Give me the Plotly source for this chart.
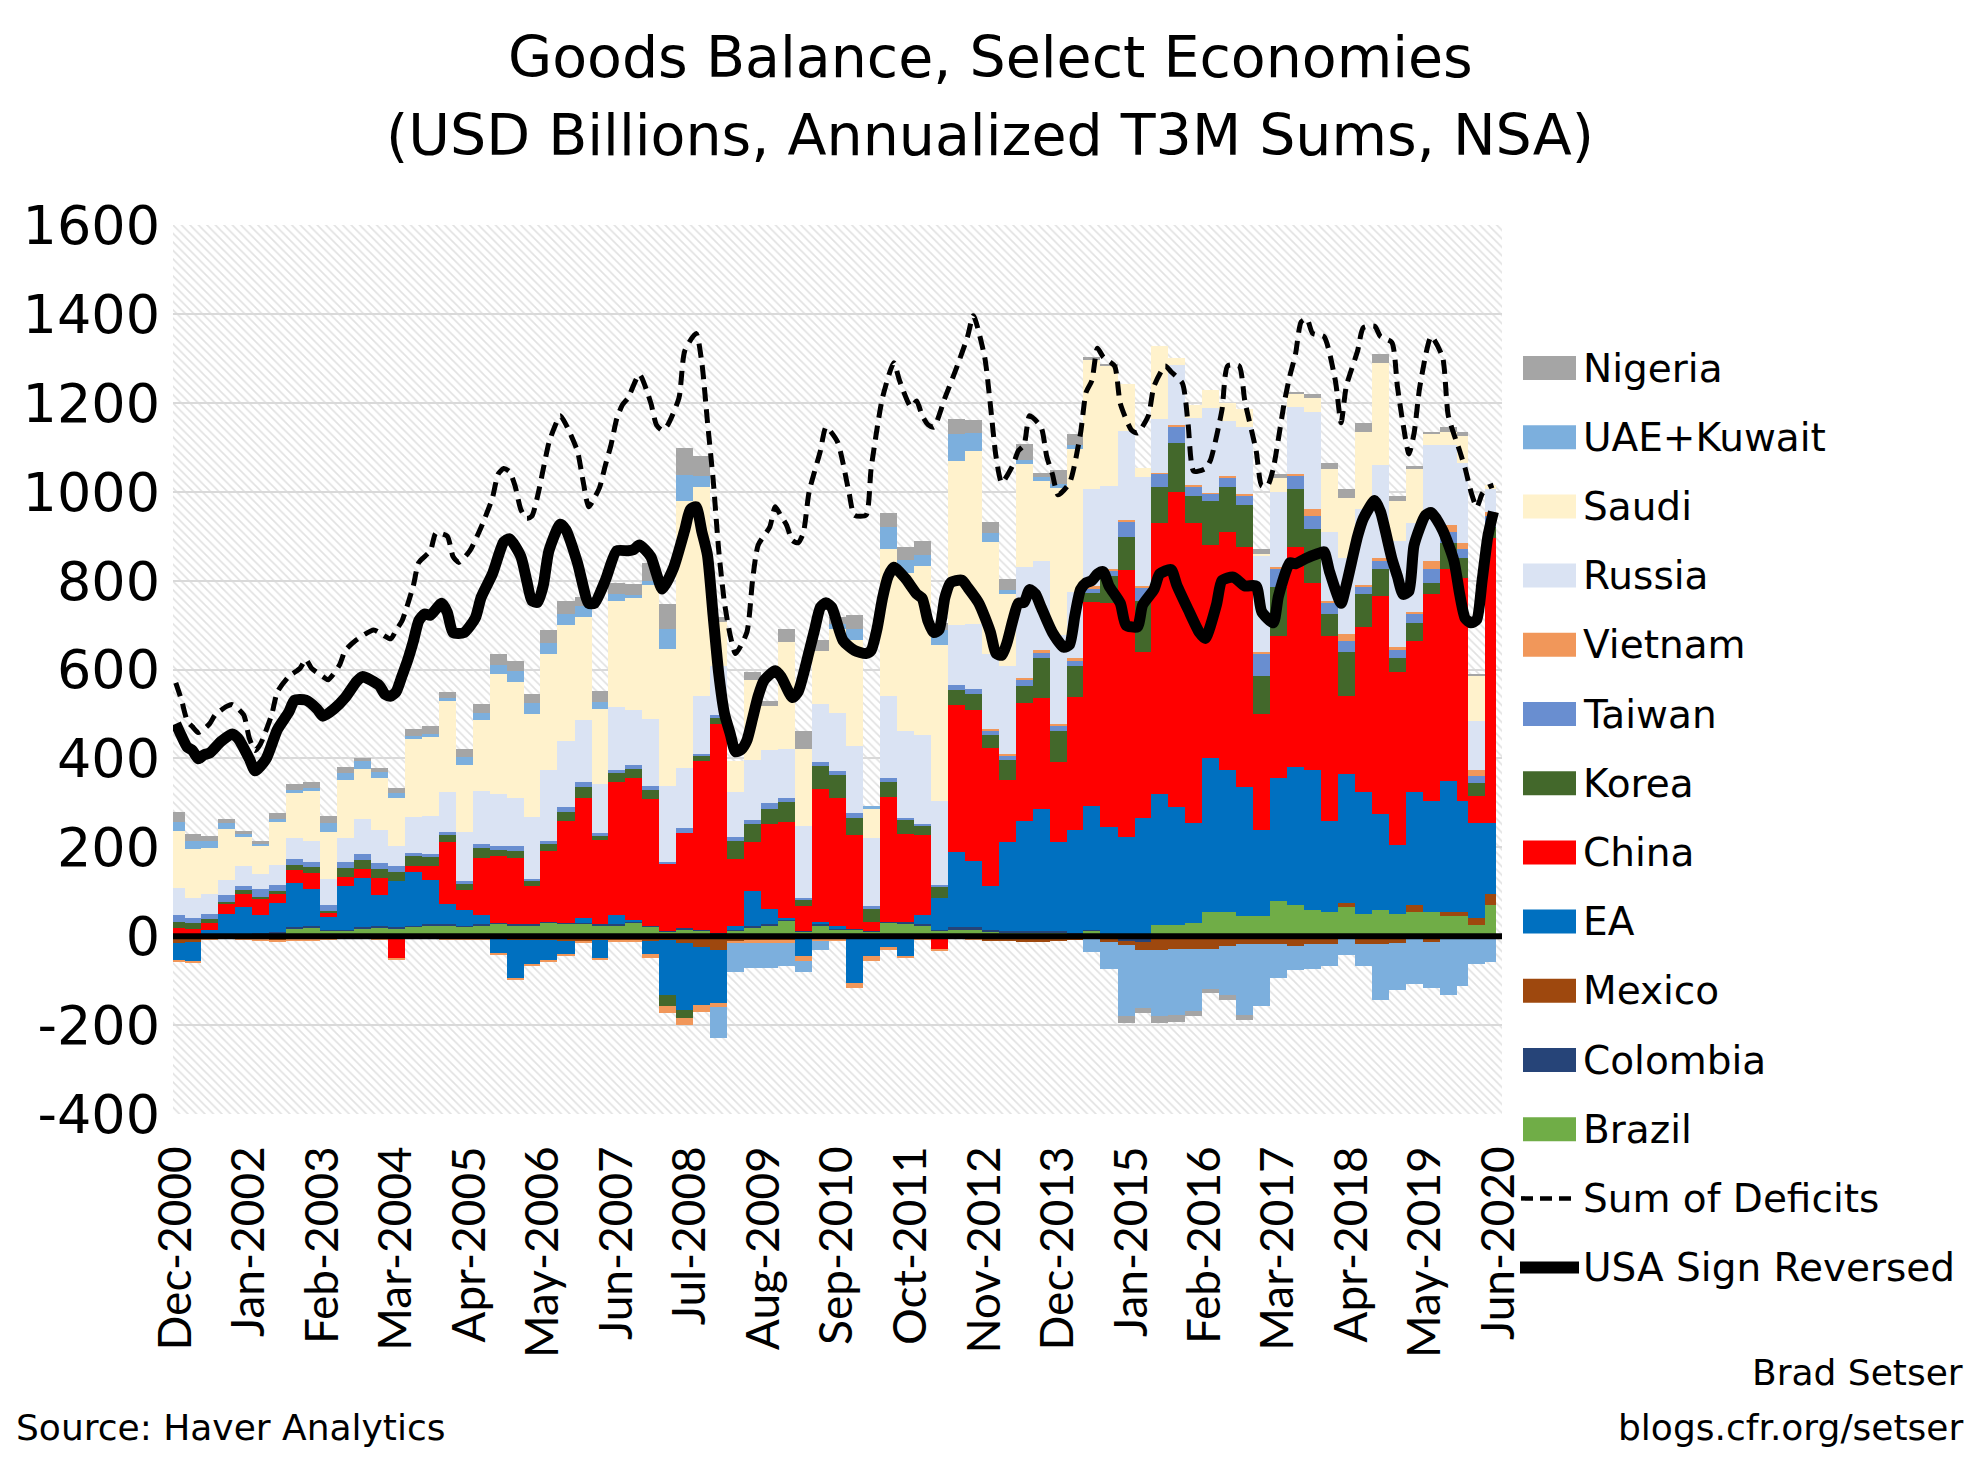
import pandas as pd
import plotly.graph_objects as go

# ---------------- data ----------------
# bar periods (start month, length in months); quarterly bars, then the last months of 2019-2020
period_start = list(pd.date_range("2000-11-01", "2019-08-01", freq="3MS").strftime("%Y-%m")) + ["2019-11", "2020-01", "2020-04"]
period_months = [3] * 76 + [2, 3, 2]

brazil = [2,2,3,3,4,5,7,18,20,12,13,18,20,18,22,25,25,22,25,28,25,25,30,28,28,25,25,30,22,10,
          15,12,5,12,20,25,35,10,25,15,15,10,30,28,25,12,15,15,10,8,8,8,8,5,12,5,2,5,25,25,
          30,55,55,45,45,80,70,60,55,65,50,60,50,55,55,45,45,25,70]
colombia = [2]*30 + [3,3,2,2,2,2,2,2,2,2,2,2,3,3,3,3,5,5,3,3,3,3,3,3,2,-5,-10,-12,-5,-3,
            -3,-3,-3,-3,-3,-3,-3,-3,-3,-3,-3,-3,-3,-2,-2,-2,-2,-2,-2]
mexico = [-15,-12,-5,-3,-5,-8,-10,-8,-8,-5,-3,-3,-5,-5,-3,-3,-5,-5,-5,-5,-8,-8,-8,-10,-10,-8,-8,-8,-10,-8,
          -15,-25,-30,-10,-8,-8,-8,-5,-5,-5,-5,-5,-5,-5,-3,-3,-3,-5,-10,-10,-12,-12,-10,-8,-5,-8,-10,-20,-25,-25,
          -25,-25,-20,-15,-15,-15,-18,-15,-15,10,-15,-15,-12,15,-10,10,10,15,25]
euro_area = [-40,-45,10,46,60,40,66,99,85,30,99,112,70,105,120,100,45,35,20,-35,-85,-55,-45,-30,10,-40,20,5,-30,-125,
             -150,-130,-120,10,80,35,5,-40,5,5,-100,-40,-20,-40,20,70,170,150,100,200,249,275,200,230,278,240,222,260,295,265,
             225,345,320,290,195,275,310,315,205,290,275,215,155,255,250,295,250,215,160]
china = [15,12,14,22,30,37,20,29,35,10,20,20,40,-45,15,30,140,45,130,150,150,85,160,230,270,190,300,320,285,150,
         215,380,470,150,110,190,215,55,300,290,210,20,280,200,180,-25,330,340,310,140,264,250,180,300,460,505,600,375,610,710,
         675,480,535,540,260,320,495,420,415,175,370,490,390,340,465,475,500,60,640]
korea = [13,13,10,4,9,5,7,13,13,3,20,20,20,20,22,22,15,13,22,15,15,12,15,20,25,8,20,20,20,-25,
         -20,10,15,40,40,35,45,15,50,50,40,30,35,30,20,25,35,35,30,45,40,90,70,70,20,60,75,115,80,110,
         60,100,100,95,85,110,130,120,50,100,75,60,30,40,25,60,45,30,25]
taiwan = [16,13,10,16,7,17,13,13,13,13,13,13,13,12,7,6,8,8,8,8,10,5,8,10,12,7,8,8,10,5,
          10,5,5,10,10,12,10,5,10,10,10,5,8,5,5,5,10,12,10,10,12,12,12,12,10,12,35,30,30,35,
          20,15,20,20,50,40,30,30,25,25,15,20,20,20,30,25,20,15,25]
vietnam = [-3,-3,-2,-2,-2,-2,-2,-2,-2,-2,-2,-2,-2,-3,-2,-2,-2,-2,-2,-3,-5,-5,-5,-5,-5,-5,-5,-5,-10,-15,
           -15,-15,-10,-5,-8,-8,-8,-10,-5,-5,-12,-10,-5,-5,-5,-5,-3,-3,3,3,5,5,5,5,5,5,3,3,3,5,
           5,3,5,5,5,5,5,15,5,15,5,5,5,5,20,15,15,15,10]
russia = [60,45,45,33,46,33,46,48,46,59,53,79,73,45,80,85,90,110,120,118,110,140,160,150,140,110,140,125,150,170,
          135,130,110,100,135,120,110,160,130,130,150,155,185,195,200,190,135,145,170,200,250,200,200,150,220,185,200,245,120,135,
          150,190,125,150,215,170,150,220,155,170,170,210,240,200,260,180,180,110,50]
saudi = [128,110,105,116,66,66,95,100,112,106,132,112,119,110,175,178,205,150,160,270,260,230,260,260,230,170,240,250,300,310,
         600,470,100,70,180,100,240,175,120,190,240,65,330,355,380,350,370,390,250,160,231,180,330,320,290,270,105,20,165,15,
         30,40,40,40,5,30,30,30,140,135,175,230,90,120,25,30,60,100,10]
uae_kuwait = [21,17,16,13,5,3,8,7,8,20,15,18,13,10,8,8,5,18,15,20,25,25,25,25,25,15,15,8,10,45,
              60,25,-70,-65,-55,-55,-50,-25,-20,10,25,5,50,30,25,35,60,40,20,10,10,10,10,10,-30,-60,-160,-130,-150,-150,
              -140,-90,-110,-160,-140,-75,-55,-55,-50,-40,-50,-125,-105,-105,-105,-130,-110,-60,-55]
nigeria = [22,16,10,9,8,7,13,13,12,15,13,8,8,12,15,16,15,18,20,25,22,22,30,30,20,25,25,25,40,55,
           60,45,10,0,18,10,30,40,25,15,30,0,30,30,30,15,33,30,25,25,35,10,30,25,5,5,-15,-10,-15,-15,
           -12,-10,-10,-10,10,10,5,10,15,20,20,20,10,8,5,10,10,5,0]

# lines (monthly points)
usa_dates = ["2000-12","2001-01","2001-02","2001-03","2001-04","2001-05","2001-06","2001-08","2001-10","2001-11",
             "2002-01","2002-02","2002-04","2002-06","2002-08","2002-09","2002-11","2003-01","2003-02","2003-04",
             "2003-06","2003-08","2003-09","2003-12","2004-01","2004-02","2004-03","2004-04","2004-05","2004-06",
             "2004-07","2004-08","2004-09","2004-11","2004-12","2005-01","2005-03","2005-05","2005-06","2005-08",
             "2005-10","2005-11","2006-01","2006-02","2006-03","2006-04","2006-05","2006-06","2006-08","2006-09",
             "2006-11","2007-01","2007-02","2007-04","2007-06","2007-08","2007-09","2007-10","2007-12","2008-01",
             "2008-02","2008-04","2008-06","2008-07","2008-08","2008-09","2008-10","2008-11","2008-12","2009-01",
             "2009-02","2009-03","2009-04","2009-05","2009-06","2009-07","2009-08","2009-10","2009-11","2010-01",
             "2010-02","2010-04","2010-05","2010-06","2010-07","2010-08","2010-10","2010-12","2011-02","2011-03",
             "2011-04","2011-05","2011-06","2011-07","2011-09","2011-11","2011-12","2012-01","2012-02","2012-03",
             "2012-04","2012-05","2012-07","2012-08","2012-10","2012-12","2013-01","2013-02","2013-03","2013-04",
             "2013-05","2013-06","2013-07","2013-08","2013-09","2013-11","2014-01","2014-02","2014-03","2014-04",
             "2014-05","2014-06","2014-07","2014-08","2014-09","2014-11","2014-12","2015-02","2015-03","2015-05",
             "2015-06","2015-08","2015-09","2015-11","2016-01","2016-02","2016-04","2016-05","2016-07","2016-09",
             "2016-11","2016-12","2017-02","2017-03","2017-05","2017-06","2017-08","2017-10","2017-11","2017-12",
             "2018-02","2018-03","2018-05","2018-06","2018-08","2018-09","2018-11","2018-12","2019-01","2019-02",
             "2019-03","2019-05","2019-06","2019-08","2019-10","2019-11","2019-12","2020-01","2020-02","2020-03",
             "2020-04","2020-05"]
usa_values = [478,450,425,418,399,408,412,438,455,445,
              399,372,399,465,504,531,531,511,495,511,
              537,573,584,564,544,540,550,585,620,663,
              710,725,722,749,729,683,683,716,762,815,
              887,894,854,801,755,751,788,867,927,914,
              841,749,749,801,867,867,870,880,854,815,
              781,828,914,960,966,910,858,720,590,500,
              455,415,420,440,490,540,575,597,584,537,
              550,640,690,740,750,740,665,643,636,643,
              690,760,810,830,805,770,760,709,683,690,
              762,795,801,785,749,685,636,632,660,710,
              749,751,780,770,740,683,650,656,720,780,
              795,800,815,820,788,749,700,696,745,780,
              815,825,790,735,683,670,745,800,808,788,
              788,730,705,765,840,838,851,861,865,820,
              749,790,900,940,980,955,850,810,769,776,
              880,947,953,914,845,770,715,705,712,800,
              900,955]
deficit_dates = ["2000-12","2001-01","2001-02","2001-03","2001-04","2001-06","2001-07","2001-09","2001-10","2001-12",
                 "2002-01","2002-02","2002-03","2002-05","2002-06","2002-08","2002-10","2002-11","2002-12","2003-02",
                 "2003-03","2003-05","2003-06","2003-08","2003-11","2003-12","2004-02","2004-03","2004-04","2004-06",
                 "2004-07","2004-09","2004-10","2004-12","2005-01","2005-02","2005-04","2005-06","2005-08","2005-09",
                 "2005-10","2005-11","2005-12","2006-01","2006-02","2006-03","2006-04","2006-06","2006-07","2006-08",
                 "2006-09","2006-11","2006-12","2007-01","2007-02","2007-03","2007-04","2007-05","2007-06","2007-07",
                 "2007-08","2007-10","2007-12","2008-01","2008-02","2008-03","2008-05","2008-06","2008-08","2008-09",
                 "2008-10","2008-11","2008-12","2009-01","2009-02","2009-03","2009-05","2009-06","2009-07","2009-09",
                 "2009-10","2009-11","2009-12","2010-01","2010-02","2010-03","2010-04","2010-06","2010-07","2010-09",
                 "2010-11","2010-12","2011-02","2011-03","2011-05","2011-07","2011-08","2011-10","2011-11","2011-12",
                 "2012-01","2012-02","2012-04","2012-06","2012-08","2012-09","2012-11","2012-12","2013-01","2013-02",
                 "2013-04","2013-05","2013-06","2013-07","2013-09","2013-10","2013-11","2013-12","2014-02","2014-04",
                 "2014-05","2014-06","2014-07","2014-08","2014-10","2014-11","2015-01","2015-02","2015-04","2015-05",
                 "2015-07","2015-08","2015-10","2015-11","2015-12","2016-02","2016-03","2016-05","2016-06","2016-08",
                 "2016-09","2016-11","2016-12","2017-01","2017-02","2017-04","2017-05","2017-06","2017-07","2017-08",
                 "2017-09","2017-11","2018-01","2018-02","2018-03","2018-05","2018-06","2018-08","2018-09","2018-11",
                 "2018-12","2019-01","2019-02","2019-03","2019-04","2019-06","2019-08","2019-09","2019-11","2019-12",
                 "2020-01","2020-02","2020-03","2020-04","2020-05"]
deficit_values = [570,531,484,471,458,478,498,517,521,498,
                  445,418,432,498,550,584,603,623,603,584,
                  577,610,643,667,689,683,669,689,709,788,
                  841,867,907,900,854,841,867,920,986,1040,
                  1052,1045,1013,960,940,945,990,1110,1145,1171,
                  1151,1092,1026,966,986,1010,1060,1105,1164,1195,
                  1211,1264,1200,1150,1138,1150,1211,1317,1356,1290,
                  1158,1026,867,749,676,636,683,801,880,920,
                  966,945,925,890,885,907,999,1092,1145,1112,
                  1000,947,947,1052,1211,1290,1250,1191,1204,1171,
                  1151,1145,1211,1277,1349,1396,1303,1198,1079,1020,
                  1059,1092,1105,1171,1145,1079,1039,993,1020,1132,
                  1224,1250,1323,1303,1283,1198,1138,1132,1171,1237,
                  1283,1270,1244,1151,1046,1052,1072,1184,1283,1283,
                  1204,1092,1013,1013,1052,1200,1260,1310,1382,1389,
                  1356,1349,1250,1155,1237,1317,1369,1372,1349,1336,
                  1237,1151,1085,1132,1237,1349,1303,1171,1092,1052,
                  1000,965,995,1010,1015]

tick_labels = ["Dec-2000","Jan-2002","Feb-2003","Mar-2004","Apr-2005","May-2006","Jun-2007","Jul-2008",
               "Aug-2009","Sep-2010","Oct-2011","Nov-2012","Dec-2013","Jan-2015","Feb-2016","Mar-2017",
               "Apr-2018","May-2019","Jun-2020"]
y_ticks = [-400, -200, 0, 200, 400, 600, 800, 1000, 1200, 1400, 1600]

series = [  # stacking order (bottom first)
    ("Brazil", brazil, "#70AD47"),
    ("Colombia", colombia, "#264478"),
    ("Mexico", mexico, "#9E480E"),
    ("EA", euro_area, "#0070C0"),
    ("China", china, "#FF0000"),
    ("Korea", korea, "#43682B"),
    ("Taiwan", taiwan, "#698ED0"),
    ("Vietnam", vietnam, "#F1975A"),
    ("Russia", russia, "#DAE3F3"),
    ("Saudi", saudi, "#FFF2CC"),
    ("UAE+Kuwait", uae_kuwait, "#7CAFDD"),
    ("Nigeria", nigeria, "#A5A5A5"),
]

# ---------------- geometry (page pixels; the page body has an 8px margin) ----------------
PAGE_W, PAGE_H, BODY = 1980, 1457, 8
W, H = PAGE_W - BODY, PAGE_H - BODY
L, R, T, B = 173, 1502, 225, 1114
TXT = "DejaVu Sans"
XF = "Lato"

def px(x):
    return (x - L) / (R - L)

def py(y):
    return (B - y) / (B - T)

starts = pd.to_datetime(period_start)
ends = [s + pd.DateOffset(months=n) for s, n in zip(starts, period_months)]
centers = [s + (e - s) / 2 for s, e in zip(starts, ends)]
widths = [(e - s).total_seconds() * 1000 for s, e in zip(starts, ends)]

def mid_month(dates):
    return [pd.Timestamp(d + "-01") + pd.Timedelta(days=15) for d in dates]

x0, x1 = pd.Timestamp("2000-12-01"), pd.Timestamp("2020-07-01")

fig = go.Figure()

# hatched plot-area background (on its own axes underneath)
fig.add_trace(go.Bar(
    x=[x0 + (x1 - x0) / 2], y=[2000], base=[-400], width=[(x1 - x0).total_seconds() * 1000],
    marker=dict(color="white", line=dict(width=0),
                pattern=dict(shape="\\", fgcolor="#C4C4C4", bgcolor="white", size=6, solidity=0.28)),
    xaxis="x", yaxis="y", hoverinfo="skip", showlegend=False))

for name, vals, col in series:
    fig.add_trace(go.Bar(
        x=centers, y=vals, width=widths, name=name,
        marker=dict(color=col, line=dict(width=0)),
        xaxis="x2", yaxis="y2", showlegend=False))

fig.add_trace(go.Scatter(
    x=mid_month(deficit_dates), y=deficit_values, mode="lines", name="Sum of Deficits",
    line=dict(color="black", width=5, dash="14px,8px", shape="spline", smoothing=0.6),
    xaxis="x2", yaxis="y2", showlegend=False))
fig.add_trace(go.Scatter(
    x=mid_month(usa_dates), y=usa_values, mode="lines", name="USA Sign Reversed",
    line=dict(color="black", width=11, shape="spline", smoothing=0.6),
    xaxis="x2", yaxis="y2", showlegend=False))

shapes = [dict(type="line", xref="x2", yref="y2", x0=x0, x1=x1, y0=0, y1=0,
               line=dict(color="black", width=6), layer="above")]
annotations = []

# custom legend
legend_rows = ["Nigeria", "UAE+Kuwait", "Saudi", "Russia", "Vietnam", "Taiwan", "Korea", "China",
               "EA", "Mexico", "Colombia", "Brazil", "Sum of Deficits", "USA Sign Reversed"]
colors = {n: c for n, _, c in series}
row0, drow = 368, 69.2
for i, name in enumerate(legend_rows):
    yc = row0 + i * drow
    if name in colors:
        shapes.append(dict(type="rect", xref="paper", yref="paper", x0=px(1523), x1=px(1576),
                           y0=py(yc + 12), y1=py(yc - 12), fillcolor=colors[name], line=dict(width=0)))
    elif name == "Sum of Deficits":
        shapes.append(dict(type="line", xref="paper", yref="paper", x0=px(1521), x1=px(1576),
                           y0=py(yc), y1=py(yc), line=dict(color="black", width=4.5, dash="12px,7px")))
    else:
        shapes.append(dict(type="line", xref="paper", yref="paper", x0=px(1520), x1=px(1579),
                           y0=py(yc), y1=py(yc), line=dict(color="black", width=12)))
    annotations.append(dict(text=name, x=px(1581), y=py(yc), xref="paper", yref="paper",
                            xanchor="left", yanchor="middle", showarrow=False,
                            font=dict(family=TXT, size=39, color="black")))

# titles and footer
annotations += [
    dict(text="Goods Balance, Select Economies", x=px(990), y=py(57), xref="paper", yref="paper",
         xanchor="center", yanchor="middle", showarrow=False, font=dict(family=TXT, size=57, color="black")),
    dict(text="(USD Billions, Annualized T3M Sums, NSA)", x=px(990), y=py(135), xref="paper", yref="paper",
         xanchor="center", yanchor="middle", showarrow=False, font=dict(family=TXT, size=57, color="black")),
    dict(text="Source: Haver Analytics", x=px(14), y=py(1427), xref="paper", yref="paper",
         xanchor="left", yanchor="middle", showarrow=False, font=dict(family=TXT, size=36, color="black")),
    dict(text="Brad Setser", x=px(1965), y=py(1372), xref="paper", yref="paper",
         xanchor="right", yanchor="middle", showarrow=False, font=dict(family=TXT, size=36, color="black")),
    dict(text="blogs.cfr.org/setser", x=px(1965), y=py(1427), xref="paper", yref="paper",
         xanchor="right", yanchor="middle", showarrow=False, font=dict(family=TXT, size=36, color="black")),
]

tick_months = [pd.to_datetime(t, format="%b-%Y").strftime("%Y-%m") for t in tick_labels]

fig.update_layout(
    width=W, height=H,
    margin=dict(l=L - BODY, r=PAGE_W - R, t=T - BODY, b=PAGE_H - B, pad=0),
    paper_bgcolor="white", plot_bgcolor="rgba(0,0,0,0)",
    barmode="relative", bargap=0,
    showlegend=False,
    shapes=shapes, annotations=annotations,
    xaxis=dict(range=[x0, x1], visible=False, domain=[0, 1], anchor="y"),
    yaxis=dict(range=[-400, 1600], visible=False, domain=[0, 1], anchor="x"),
    xaxis2=dict(range=[x0, x1], domain=[0, 1], anchor="y2", type="date",
                tickmode="array", tickvals=mid_month(tick_months),
                ticktext=tick_labels, tickangle=-90, ticks="", showgrid=False, showline=False, zeroline=False,
                ticklabelstandoff=22, tickfont=dict(family=XF, size=46, color="black")),
    yaxis2=dict(range=[-400, 1600], domain=[0, 1], anchor="x2", tickmode="array", tickvals=y_ticks,
                ticktext=[str(v) for v in y_ticks], ticks="", showgrid=True, gridcolor="#D9D9D9", gridwidth=2,
                zeroline=False, showline=False, ticklabelstandoff=12,
                tickfont=dict(family=TXT, size=54, color="black")),
    font=dict(family=TXT, color="black"),
)

fig.write_html("out.html")
